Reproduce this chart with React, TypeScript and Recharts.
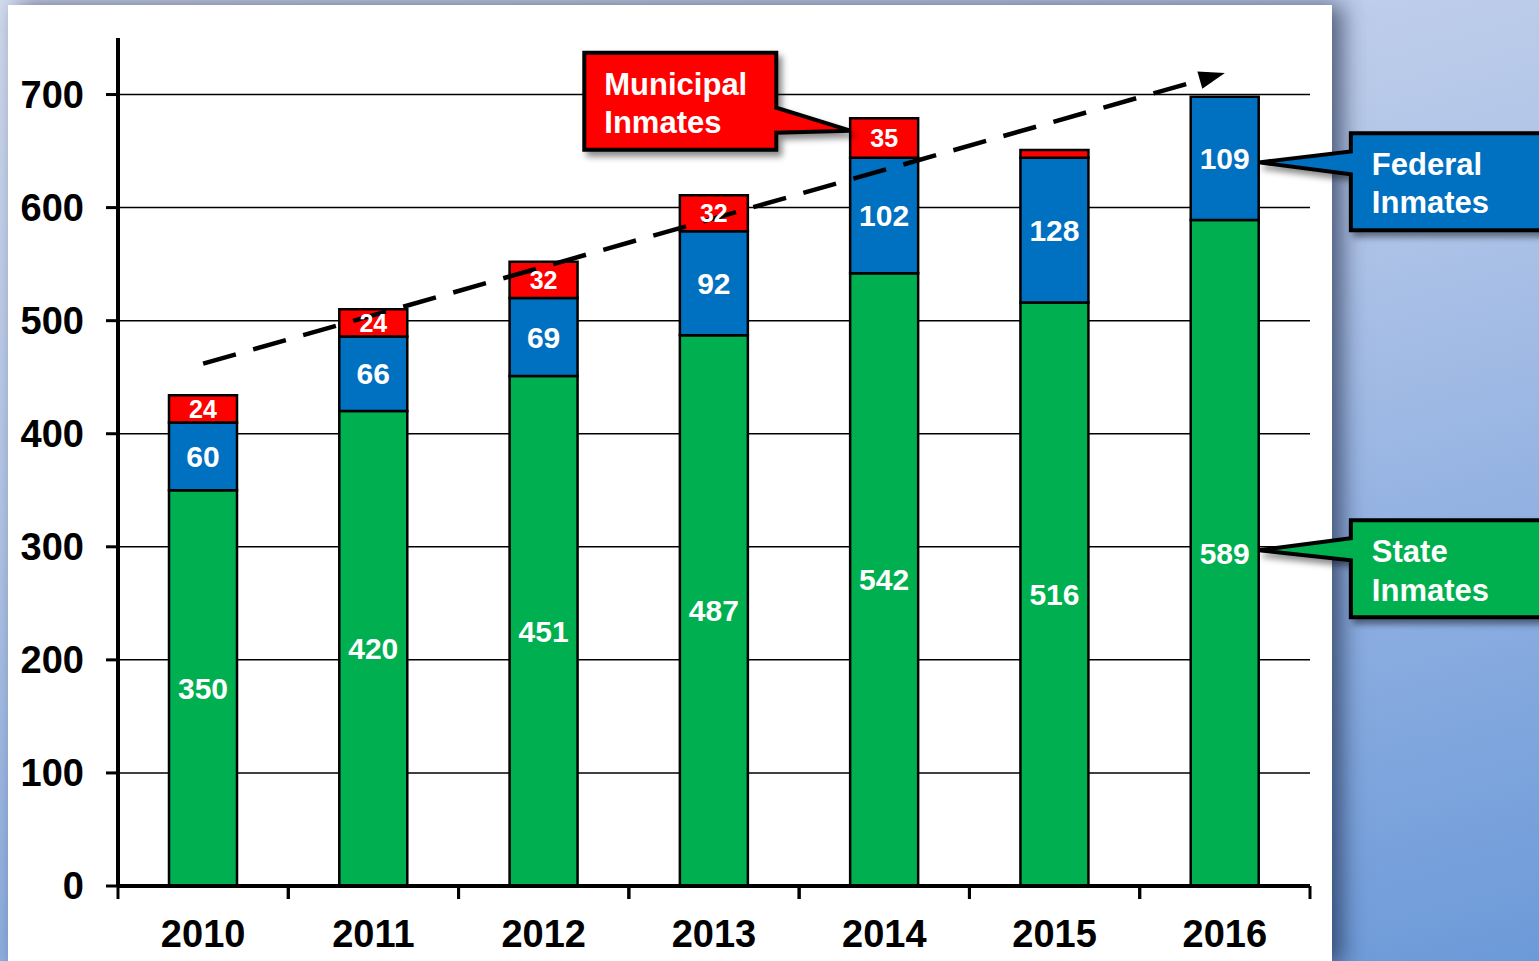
import React from 'react';
import {
  BarChart,
  Bar,
  XAxis,
  YAxis,
  CartesianGrid,
  LabelList,
  ReferenceLine,
  ReferenceDot,
} from 'recharts';

const years = ['2010', '2011', '2012', '2013', '2014', '2015', '2016'];
const stateInmates = [350, 420, 451, 487, 542, 516, 589];
const federalInmates = [60, 66, 69, 92, 102, 128, 109];
const municipalInmates = [24, 24, 32, 32, 35, 7, 0];
const yTicks = [0, 100, 200, 300, 400, 500, 600, 700];

// trend arrow, drawn from 2010 to 2016
const trendStart = { x: '2010', y: 462 };
const trendEnd = { x: '2016', y: 719 };

const W = 1539;
const H = 961;
const MARGIN = { top: 38, right: 229, left: 8, bottom: 0 };
const Y_AXIS_W = 110;
const X_AXIS_H = 75;
const BAR_SIZE = 68;
const FONT = '"Liberation Sans", Arial, sans-serif';

const GREEN = '#00B050';
const BLUE = '#0070C0';
const RED = '#FF0000';

const rows = years.map((year, i) => ({
  year,
  state: stateInmates[i],
  federal: federalInmates[i],
  municipal: municipalInmates[i],
}));

const plotWidth = W - MARGIN.left - MARGIN.right - Y_AXIS_W;
const step = plotWidth / years.length;

function YearTick(props: any) {
  const { x, y, payload } = props;
  return (
    <g>
      <line x1={x - step / 2} x2={x - step / 2} y1={y} y2={y + 13} stroke="#000" strokeWidth={3} />
      <line x1={x + step / 2} x2={x + step / 2} y1={y} y2={y + 13} stroke="#000" strokeWidth={3} />
      <text
        x={x}
        y={y + 61}
        textAnchor="middle"
        fontFamily={FONT}
        fontSize={38}
        fontWeight="bold"
        fill="#000"
      >
        {payload.value}
      </text>
    </g>
  );
}

function TrendArrow(props: any) {
  const { x1, y1, x2, y2 } = props;
  if ([x1, y1, x2, y2].some((v) => typeof v !== 'number')) return null;
  const ang = Math.atan2(y2 - y1, x2 - x1);
  const len = 26;
  const half = 9;
  const bx = x2 - len * Math.cos(ang);
  const by = y2 - len * Math.sin(ang);
  const px = -Math.sin(ang) * half;
  const py = Math.cos(ang) * half;
  return (
    <g>
      <line
        x1={x1}
        y1={y1}
        x2={bx}
        y2={by}
        stroke="#000"
        strokeWidth={4.5}
        strokeDasharray="34 18"
      />
      <polygon
        points={`${x2},${y2} ${bx + px},${by + py} ${bx - px},${by - py}`}
        fill="#000"
      />
    </g>
  );
}

type CalloutSpec = {
  id: string;
  side: 'left' | 'right';
  fill: string;
  dx: number; // tip offset from the dot centre
  box: [number, number, number, number]; // x0, y0, x1, y1 relative to tip
  base: [number, number]; // pointer base, relative to tip
  textX: number;
  baselines: [number, number];
  lines: [string, string];
};

function makeCallout(spec: CalloutSpec) {
  return (props: any) => {
    const { cx, cy } = props;
    if (typeof cx !== 'number' || typeof cy !== 'number') return null;
    const tx = cx + spec.dx;
    const ty = cy;
    const [a0, b0, a1, b1] = spec.box;
    const x0 = tx + a0;
    const y0 = ty + b0;
    const x1 = tx + a1;
    const y1 = ty + b1;
    const pA = ty + spec.base[0];
    const pB = ty + spec.base[1];
    const d =
      spec.side === 'right'
        ? `M${x0},${y0} L${x1},${y0} L${x1},${pA} L${tx},${ty} L${x1},${pB} L${x1},${y1} L${x0},${y1} Z`
        : `M${x0},${y0} L${x1},${y0} L${x1},${y1} L${x0},${y1} L${x0},${pB} L${tx},${ty} L${x0},${pA} Z`;
    return (
      <g>
        <defs>
          <filter id={spec.id} x="-20%" y="-30%" width="140%" height="160%">
            <feDropShadow dx="4" dy="5" stdDeviation="3" floodColor="#000" floodOpacity="0.45" />
          </filter>
        </defs>
        <path
          d={d}
          fill={spec.fill}
          stroke="#000"
          strokeWidth={4}
          strokeLinejoin="miter"
          filter={`url(#${spec.id})`}
        />
        {spec.lines.map((t, i) => (
          <text
            key={t}
            x={tx + spec.textX}
            y={ty + spec.baselines[i]}
            fontFamily={FONT}
            fontSize={31}
            fontWeight="bold"
            fill="#fff"
          >
            {t}
          </text>
        ))}
      </g>
    );
  };
}

const municipalCallout = makeCallout({
  id: 'shadow-mun',
  side: 'right',
  fill: RED,
  dx: -BAR_SIZE / 2,
  box: [-266, -78, -74, 19],
  base: [-23, 2],
  textX: -246,
  baselines: [-36, 2],
  lines: ['Municipal', 'Inmates'],
});

const federalCallout = makeCallout({
  id: 'shadow-fed',
  side: 'left',
  fill: BLUE,
  dx: BAR_SIZE / 2,
  box: [92, -29, 320, 68],
  base: [-11, 12],
  textX: 113,
  baselines: [13, 51],
  lines: ['Federal', 'Inmates'],
});

const stateCallout = makeCallout({
  id: 'shadow-state',
  side: 'left',
  fill: GREEN,
  dx: BAR_SIZE / 2,
  box: [92, -30, 320, 67],
  base: [-12, 10],
  textX: 113,
  baselines: [12, 51],
  lines: ['State', 'Inmates'],
});

const hideSmall = (v: any) => (Number(v) >= 10 ? v : '');

export default function App() {
  return (
    <div
      style={{
        position: 'absolute',
        left: 0,
        top: 0,
        width: W,
        height: H,
        overflow: 'hidden',
        background: 'linear-gradient(165deg, #d3dcef 0%, #b3c6e8 40%, #88abe0 75%, #6c9ad8 100%)',
        fontFamily: FONT,
      }}
    >
      <div
        style={{
          position: 'absolute',
          left: 8,
          top: 5,
          width: 1324,
          height: H,
          background: '#fff',
          boxShadow: '10px 0 22px rgba(20, 30, 60, 0.65)',
        }}
      />
      <div style={{ position: 'absolute', left: 0, top: 0 }}>
        <BarChart width={W} height={H} data={rows} margin={MARGIN} barSize={BAR_SIZE}>
          <CartesianGrid
            vertical={false}
            horizontalValues={yTicks.slice(1)}
            stroke="#000"
            strokeWidth={1.5}
          />
          <XAxis
            dataKey="year"
            height={X_AXIS_H}
            axisLine={{ stroke: '#000', strokeWidth: 4 }}
            tickLine={false}
            tickSize={0}
            tickMargin={0}
            interval={0}
            tick={<YearTick />}
          />
          <YAxis
            width={Y_AXIS_W}
            domain={[0, 750]}
            ticks={yTicks}
            interval={0}
            allowDataOverflow
            axisLine={{ stroke: '#000', strokeWidth: 4 }}
            tickLine={{ stroke: '#000', strokeWidth: 3 }}
            tickSize={12}
            tickMargin={22}
            tick={{ fill: '#000', fontSize: 38, fontWeight: 'bold', fontFamily: FONT }}
          />
          <Bar dataKey="state" stackId="a" fill={GREEN} stroke="#000" strokeWidth={2.5} isAnimationActive={false}>
            <LabelList
              dataKey="state"
              position="center"
              fill="#fff"
              fontSize={30}
              fontWeight="bold"
              fontFamily={FONT}
            />
          </Bar>
          <Bar dataKey="federal" stackId="a" fill={BLUE} stroke="#000" strokeWidth={2.5} isAnimationActive={false}>
            <LabelList
              dataKey="federal"
              position="center"
              fill="#fff"
              fontSize={30}
              fontWeight="bold"
              fontFamily={FONT}
            />
          </Bar>
          <Bar dataKey="municipal" stackId="a" fill={RED} stroke="#000" strokeWidth={2.5} isAnimationActive={false}>
            <LabelList
              dataKey="municipal"
              position="center"
              fill="#fff"
              fontSize={25}
              fontWeight="bold"
              fontFamily={FONT}
              formatter={hideSmall}
            />
          </Bar>
          <ReferenceLine
            segment={[trendStart, trendEnd]}
            ifOverflow="visible"
            shape={<TrendArrow />}
          />
          <ReferenceDot x="2014" y={668} r={0} ifOverflow="visible" shape={municipalCallout} />
          <ReferenceDot x="2016" y={640} r={0} ifOverflow="visible" shape={federalCallout} />
          <ReferenceDot x="2016" y={297} r={0} ifOverflow="visible" shape={stateCallout} />
        </BarChart>
      </div>
    </div>
  );
}
